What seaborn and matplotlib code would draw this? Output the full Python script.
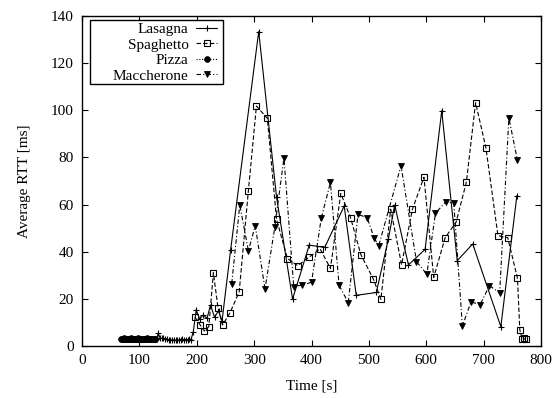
import matplotlib
matplotlib.use("Agg")
import matplotlib.pyplot as plt
from matplotlib.patches import Rectangle
import seaborn as sns

# --- measured round-trip times per host -------------------------------------
pizza_t = [68, 70, 71, 73, 74, 76, 77, 79, 80, 82, 83, 85, 86, 88, 89, 91, 92,
           94, 95, 97, 98, 100, 101, 103, 104, 106, 107, 109, 110, 112, 113,
           115, 116, 118, 119, 121, 122, 124, 125, 127, 128]
pizza_rtt = [2.9, 3.1, 2.8, 3.0, 3.2, 2.9, 3.0, 2.8, 3.1, 3.0, 2.9, 3.2, 3.0,
             2.8, 3.1, 2.9, 3.0, 3.1, 2.8, 3.0, 3.2, 2.9, 3.0, 2.8, 3.1, 3.0,
             2.9, 3.1, 3.0, 2.8, 3.2, 2.9, 3.0, 3.1, 2.9, 3.0, 2.8, 3.1, 3.0,
             2.9, 3.0]

lasagna_t = [130, 133, 136, 139, 142, 145, 148, 151, 154, 157, 160, 163, 166,
             169, 172, 175, 178, 181, 184, 187, 190, 194, 199, 205, 211, 218,
             224, 231, 238, 244, 259, 308, 339, 367, 396, 423, 457, 478, 513,
             534, 545, 569, 598, 627, 654, 681, 730, 758]
lasagna_rtt = [3.0, 5.4, 3.4, 3.2, 3.3, 2.8, 3.0, 2.6, 2.7, 2.5, 2.6, 2.4, 2.7,
               2.5, 2.6, 2.8, 2.5, 2.7, 2.6, 2.9, 2.7, 6.1, 15.3, 11.5, 13.1,
               11.8, 17.4, 12.2, 15.0, 10.5, 40.7, 133.4, 63.3, 19.9, 42.8,
               41.8, 59.4, 21.5, 22.7, 45.4, 59.8, 34.4, 41.0, 99.8, 36.2,
               43.3, 8.2, 63.8]

spaghetto_t = [197, 206, 213, 221, 229, 237, 245, 258, 274, 290, 304, 323, 339,
               358, 376, 396, 415, 433, 451, 468, 486, 508, 521, 538, 557, 576,
               596, 613, 633, 652, 670, 686, 704, 725, 742, 759, 763, 767, 770,
               773]
spaghetto_rtt = [12.2, 8.9, 6.4, 8.2, 31.1, 16.3, 8.9, 14.1, 23.0, 65.9, 101.8,
                 96.6, 53.9, 37.1, 34.1, 37.7, 41.2, 32.9, 64.7, 54.5, 38.8,
                 28.3, 19.8, 58.0, 34.5, 58.1, 71.6, 29.1, 46.0, 52.5, 69.6,
                 103.2, 84.1, 46.8, 46.0, 28.7, 7.0, 3.0, 3.2, 2.8]

maccherone_t = [261, 275, 290, 302, 319, 336, 352, 369, 384, 400, 417, 433,
                448, 464, 481, 497, 509, 517, 556, 583, 601, 616, 634, 648,
                663, 678, 694, 710, 728, 744, 759]
maccherone_rtt = [26.5, 59.8, 40.5, 51.0, 24.2, 50.3, 79.8, 25.2, 25.9, 27.0,
                  54.2, 69.4, 25.9, 18.3, 55.8, 54.5, 46.0, 42.4, 76.5, 35.8,
                  30.5, 56.3, 61.2, 60.5, 8.5, 18.7, 17.6, 25.6, 22.6, 96.8,
                  78.7]

x_ticks = [0, 100, 200, 300, 400, 500, 600, 700, 800]
y_ticks = [0, 20, 40, 60, 80, 100, 120, 140]

# --- style --------------------------------------------------------------------
sns.set_theme(style="ticks")
plt.rcParams["font.family"] = ["Liberation Serif", "DejaVu Serif"]
plt.rcParams.update({
    "font.size": 11,
    "axes.linewidth": 1.0,
    "axes.edgecolor": "black",
    "xtick.color": "black",
    "ytick.color": "black",
    "text.color": "black",
    "axes.labelcolor": "black",
})

W, H = 555, 398
fig = plt.figure(figsize=(W / 100, H / 100), dpi=100)
ax_l, ax_r, ax_t, ax_b = 82, 541, 16, 346
ax = fig.add_axes([ax_l / W, 1 - ax_b / H, (ax_r - ax_l) / W, (ax_b - ax_t) / H])

series = [
    ("Lasagna", lasagna_t, lasagna_rtt,
     dict(linestyle="-", marker="+", markersize=5, markeredgewidth=0.8,
          markerfacecolor="black")),
    ("Spaghetto", spaghetto_t, spaghetto_rtt,
     dict(linestyle=(0, (4, 2)), marker="s", markersize=4.8,
          markeredgewidth=0.8, markerfacecolor="none")),
    ("Pizza", pizza_t, pizza_rtt,
     dict(linestyle=(0, (1, 1.5)), marker="o", markersize=4.2,
          markeredgewidth=0.5, markerfacecolor="black")),
    ("Maccherone", maccherone_t, maccherone_rtt,
     dict(linestyle=(0, (4, 2, 1, 2)), marker="v", markersize=5,
          markeredgewidth=0.6, markerfacecolor="black")),
]

for name, t, rtt, style in series:
    sns.lineplot(x=t, y=rtt, ax=ax, color="black", label=name,
                 estimator=None, sort=False, linewidth=0.8,
                 markeredgecolor="black", **style)

ax.set_xlim(0, 800)
ax.set_ylim(0, 140)
ax.set_xticks(x_ticks)
ax.set_yticks(y_ticks)
ax.tick_params(direction="in", length=4, width=0.8, top=True, right=True,
               labelsize=11, pad=6)
for side in ("top", "right"):
    ax.spines[side].set_visible(True)

ax.set_xlabel("Time [s]", fontsize=11, labelpad=9)
ax.set_ylabel("Average RTT [ms]", fontsize=11, labelpad=14)

# key box in the upper-left corner, entries right-aligned against the samples
box_l, box_r, box_t, box_b = 90, 223, 20, 84
aw, ah = ax_r - ax_l, ax_b - ax_t
ax.add_patch(Rectangle(((box_l - ax_l) / aw, 1 - (box_b - ax_t) / ah),
                       (box_r - box_l) / aw, (box_b - box_t) / ah,
                       transform=ax.transAxes, facecolor="white",
                       edgecolor="black", linewidth=1.0, zorder=4))
handles, labels = ax.get_legend_handles_labels()
leg = ax.legend(handles, labels, loc="upper right",
                bbox_to_anchor=((box_r - 6 - ax_l) / aw,
                                1 - (box_t + 2.5 - ax_t) / ah),
                borderaxespad=0, borderpad=0, markerfirst=False,
                frameon=False, fontsize=11, handlelength=1.35,
                handletextpad=0.5, labelspacing=0.12)
leg.set_zorder(5)

fig.savefig("out.png", dpi=100)
